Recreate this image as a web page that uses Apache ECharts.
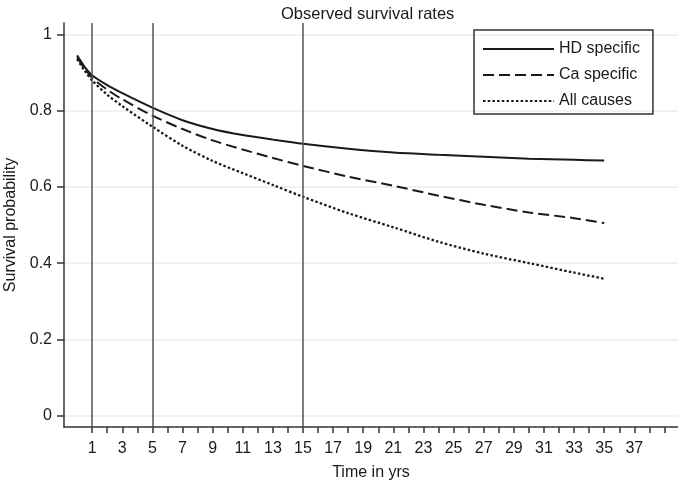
<!DOCTYPE html>
<html>
<head>
<meta charset="utf-8">
<script src="https://cdn.jsdelivr.net/npm/echarts@6/dist/echarts.min.js"></script>
<style>
  html, body { margin: 0; padding: 0; background: #fff; }
  #chart { width: 678px; height: 486px; }
</style>
</head>
<body>
<div id="chart"></div>
<script>
// years of follow-up
const years = [0, 0.5, 1, 2, 3, 5, 7, 9, 11, 13, 15, 18, 21, 24, 27, 30, 33, 35];
// survival curves
const hdSpecific = [0.945, 0.915, 0.893, 0.867, 0.846, 0.808, 0.775, 0.752, 0.736, 0.724, 0.713, 0.700, 0.690, 0.684, 0.679, 0.674, 0.671, 0.669];
const caSpecific = [0.940, 0.910, 0.886, 0.855, 0.830, 0.787, 0.752, 0.722, 0.698, 0.676, 0.655, 0.627, 0.603, 0.577, 0.553, 0.533, 0.518, 0.505];
const allCauses  = [0.935, 0.905, 0.879, 0.842, 0.812, 0.758, 0.708, 0.668, 0.636, 0.605, 0.574, 0.531, 0.494, 0.456, 0.425, 0.400, 0.375, 0.359];
// reference lines at these years
const markYears = [1, 5, 15];
// tick labels
const xTicks = [];
for (let i = 1; i <= 39; i++) xTicks.push(i);
const xLabels = xTicks.filter(v => v % 2 === 1 && v <= 37);
const yLabels = [0, 0.2, 0.4, 0.6, 0.8, 1];

const font = "'Liberation Sans', Arial, sans-serif";
const ink = "#1a1a1a";

function pairs(ys) {
  return years.map((x, i) => [x, ys[i]]);
}

const chart = echarts.init(document.getElementById("chart"));
const option = {
  animation: false,
  textStyle: { fontFamily: font },
  title: {
    text: "Observed survival rates",
    left: 276,
    top: 1,
    textStyle: { fontSize: 16.5, fontWeight: "normal", color: ink, fontFamily: font }
  },
  legend: {
    orient: "vertical",
    left: 474,
    top: 30,
    padding: [11, 13, 5, 8],
    borderColor: "#333",
    borderWidth: 1.5,
    itemWidth: 71,
    itemHeight: 16,
    itemGap: 10,
    itemStyle: { color: "transparent", borderColor: "transparent", borderWidth: 0 },
    textStyle: { fontSize: 16, color: ink, fontFamily: font },
    data: ["HD specific", "Ca specific", "All causes"]
  },
  grid: { left: 64, right: 0, top: 23, bottom: 59, containLabel: false, outerBoundsMode: "none" },
  xAxis: {
    type: "value",
    min: -0.87,
    max: 39.9,
    name: "Time in yrs",
    nameLocation: "middle",
    nameGap: 38,
    nameTextStyle: { fontSize: 16, color: ink, fontFamily: font },
    axisLine: { onZero: false, lineStyle: { color: "#333", width: 1.5 } },
    axisTick: { customValues: xTicks, length: 6, lineStyle: { color: "#333", width: 1.5 } },
    axisLabel: { customValues: xLabels, fontSize: 16, color: ink, margin: 14 },
    splitLine: { show: false }
  },
  yAxis: {
    type: "value",
    min: -0.03,
    max: 1.03,
    name: "Survival probability",
    nameLocation: "middle",
    nameGap: 45,
    nameTextStyle: { fontSize: 16, color: ink, fontFamily: font },
    axisLine: { show: true, onZero: false, lineStyle: { color: "#333", width: 1.5 } },
    axisTick: { show: true, customValues: yLabels, length: 7, lineStyle: { color: "#333", width: 1.5 } },
    axisLabel: { customValues: yLabels, fontSize: 16, color: ink, margin: 12 },
    splitLine: { show: true, lineStyle: { color: "#ececec", width: 1.5 } }
  },
  series: [
    {
      name: "HD specific",
      type: "line",
      data: pairs(hdSpecific),
      smooth: 0.3,
      symbol: "none",
      lineStyle: { color: ink, width: 2, type: "solid" },
      itemStyle: { color: ink },
      markLine: {
        silent: true,
        symbol: "none",
        label: { show: false },
        lineStyle: { color: "#555", width: 1.5, type: "solid" },
        data: markYears.map(v => ({ xAxis: v }))
      }
    },
    {
      name: "Ca specific",
      type: "line",
      data: pairs(caSpecific),
      smooth: 0.3,
      symbol: "none",
      lineStyle: { color: ink, width: 2, type: [11, 5] },
      itemStyle: { color: ink }
    },
    {
      name: "All causes",
      type: "line",
      data: pairs(allCauses),
      smooth: 0.3,
      symbol: "none",
      lineStyle: { color: ink, width: 2.3, type: [2.5, 2.2] },
      itemStyle: { color: ink }
    }
  ]
};
chart.setOption(option);
</script>
</body>
</html>
